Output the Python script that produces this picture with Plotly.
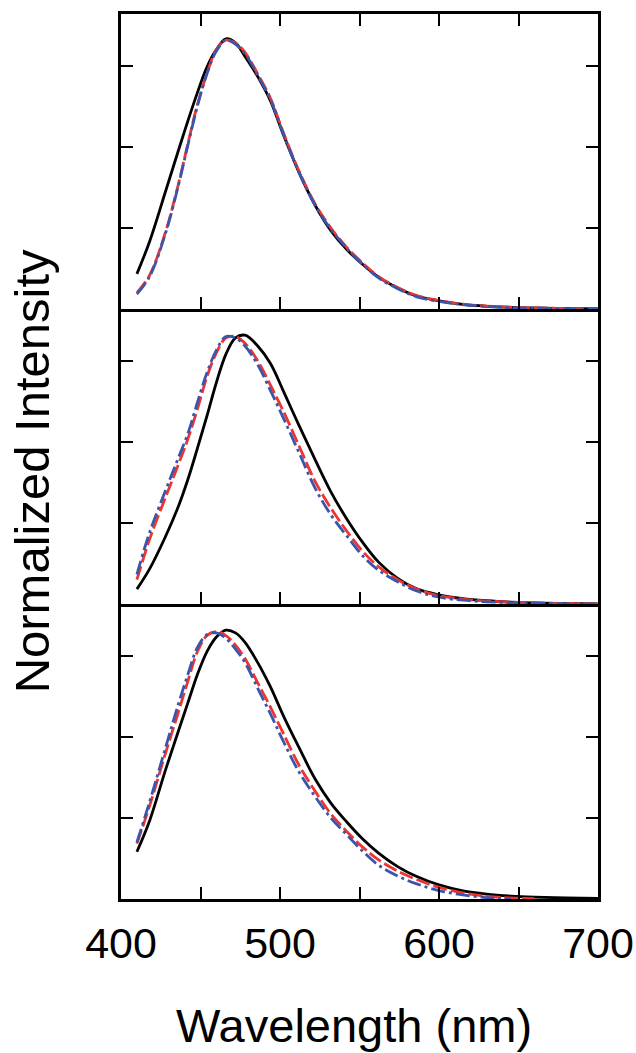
import plotly.graph_objects as go
from plotly.subplots import make_subplots

# Emission wavelength grid (nm)
wavelength = [410, 418, 428, 436, 442, 448, 454, 460, 466, 472, 478, 486, 494,
              502, 512, 522, 532, 542, 552, 562, 574, 586, 600, 615, 630, 645,
              660, 680, 700]

# Panel 1 (top)
top_black = [0.13, 0.25, 0.435, 0.585, 0.695, 0.80, 0.895, 0.96, 1.0, 0.985, 0.935,
             0.86, 0.77, 0.647, 0.505, 0.385, 0.29, 0.22, 0.165, 0.118, 0.078, 0.048,
             0.03, 0.017, 0.01, 0.006, 0.004, 0.002, 0.0]
top_red = [0.06, 0.125, 0.285, 0.46, 0.61, 0.755, 0.87, 0.96, 0.995, 0.985, 0.95,
           0.87, 0.78, 0.655, 0.51, 0.39, 0.30, 0.228, 0.17, 0.12, 0.08, 0.05,
           0.032, 0.018, 0.011, 0.007, 0.004, 0.002, 0.001]
top_blue = [0.055, 0.12, 0.28, 0.455, 0.605, 0.75, 0.87, 0.955, 0.995, 0.98, 0.945,
            0.865, 0.775, 0.65, 0.505, 0.385, 0.295, 0.225, 0.165, 0.115, 0.075, 0.045,
            0.028, 0.016, 0.009, 0.005, 0.003, 0.001, 0.0]

# Panel 2 (middle)
mid_black = [0.055, 0.13, 0.25, 0.36, 0.46, 0.575, 0.695, 0.82, 0.925, 0.985, 0.995,
             0.955, 0.89, 0.79, 0.66, 0.535, 0.415, 0.315, 0.228, 0.155, 0.095, 0.056,
             0.034, 0.02, 0.012, 0.007, 0.004, 0.002, 0.0]
mid_red = [0.09, 0.24, 0.395, 0.515, 0.61, 0.72, 0.84, 0.93, 0.985, 0.99, 0.965,
           0.90, 0.81, 0.715, 0.585, 0.455, 0.355, 0.27, 0.195, 0.138, 0.09, 0.055,
           0.031, 0.018, 0.011, 0.007, 0.004, 0.002, 0.0]
mid_blue = [0.11, 0.265, 0.42, 0.54, 0.63, 0.745, 0.855, 0.94, 0.99, 0.985, 0.955,
            0.885, 0.79, 0.69, 0.56, 0.43, 0.33, 0.252, 0.178, 0.125, 0.082, 0.048,
            0.025, 0.014, 0.008, 0.005, 0.003, 0.001, 0.0]

# Panel 3 (bottom)
bot_black = [0.175, 0.29, 0.478, 0.62, 0.725, 0.83, 0.915, 0.97, 0.995, 0.985, 0.95,
             0.875, 0.785, 0.68, 0.56, 0.445, 0.355, 0.285, 0.222, 0.17, 0.12, 0.083,
             0.052, 0.03, 0.018, 0.011, 0.007, 0.004, 0.002]
bot_red = [0.205, 0.345, 0.54, 0.69, 0.805, 0.915, 0.975, 0.99, 0.975, 0.94, 0.89,
           0.80, 0.71, 0.614, 0.495, 0.40, 0.315, 0.25, 0.192, 0.145, 0.103, 0.072,
           0.043, 0.023, 0.01, 0.004, 0.001, None, None]
bot_blue = [0.21, 0.36, 0.56, 0.72, 0.83, 0.93, 0.978, 0.985, 0.965, 0.925, 0.875,
            0.78, 0.685, 0.585, 0.47, 0.38, 0.30, 0.238, 0.177, 0.125, 0.085, 0.056,
            0.031, 0.015, 0.005, 0.001, None, None, None]

x_tick_vals = [400, 450, 500, 550, 600, 650, 700]
x_tick_text = ["400", "", "500", "", "600", "", "700"]
y_tick_vals = [0.3, 0.6, 0.9]

BLACK = "#000000"
RED = "#ec3530"
BLUE = "#3b55ad"
FONT = "Liberation Sans, Arial, sans-serif"

panels = [
    (top_black, top_red, top_blue),
    (mid_black, mid_red, mid_blue),
    (bot_black, bot_red, bot_blue),
]

fig = make_subplots(rows=3, cols=1, shared_xaxes=True, vertical_spacing=0)

for row, (k, r, b) in enumerate(panels, start=1):
    fig.add_trace(go.Scatter(x=wavelength, y=k, mode="lines",
                             line=dict(color=BLACK, width=2.8, shape="spline", smoothing=1.0),
                             showlegend=False), row=row, col=1)
    fig.add_trace(go.Scatter(x=wavelength, y=r, mode="lines",
                             line=dict(color=RED, width=2.8, dash="14px,4px",
                                       shape="spline", smoothing=1.0),
                             showlegend=False), row=row, col=1)
    fig.add_trace(go.Scatter(x=wavelength, y=b, mode="lines",
                             line=dict(color=BLUE, width=2.8, dash="14px,4px,3px,4px",
                                       shape="spline", smoothing=1.0),
                             showlegend=False), row=row, col=1)

for row in range(1, 4):
    # only the top panel carries ticks along its upper edge; lower panels share
    # the bottom line of the panel above as their upper border
    fig.update_xaxes(range=[400, 700], tickvals=x_tick_vals, ticktext=x_tick_text,
                     ticks="inside", ticklen=12, tickwidth=2.2, tickcolor=BLACK,
                     showline=True, linecolor=BLACK, linewidth=2.8,
                     mirror="ticks" if row == 1 else False,
                     showgrid=False, zeroline=False, automargin=False,
                     showticklabels=(row == 3), ticklabelstandoff=4,
                     tickfont=dict(family=FONT, size=43, color=BLACK),
                     row=row, col=1)
    fig.update_yaxes(range=[0, 1.092], tickvals=y_tick_vals,
                     ticks="inside", ticklen=12, tickwidth=2.2, tickcolor=BLACK,
                     showline=True, linecolor=BLACK, linewidth=2.8, mirror="ticks",
                     showgrid=False, zeroline=False, showticklabels=False,
                     automargin=False, row=row, col=1)

fig.add_annotation(text="Wavelength (nm)", xref="paper", yref="paper",
                   x=0.488, y=-0.143, xanchor="center", yanchor="middle",
                   showarrow=False, font=dict(family=FONT, size=47, color=BLACK))
fig.add_annotation(text="Normalized Intensity", xref="paper", yref="paper",
                   x=-0.187, y=0.483, xanchor="center", yanchor="middle", textangle=-90,
                   showarrow=False, font=dict(family=FONT, size=49, color=BLACK))

fig.update_layout(width=636, height=1053,
                  margin=dict(l=121, r=38, t=14, b=154),
                  paper_bgcolor="white", plot_bgcolor="white")

fig.write_html("out.html")
